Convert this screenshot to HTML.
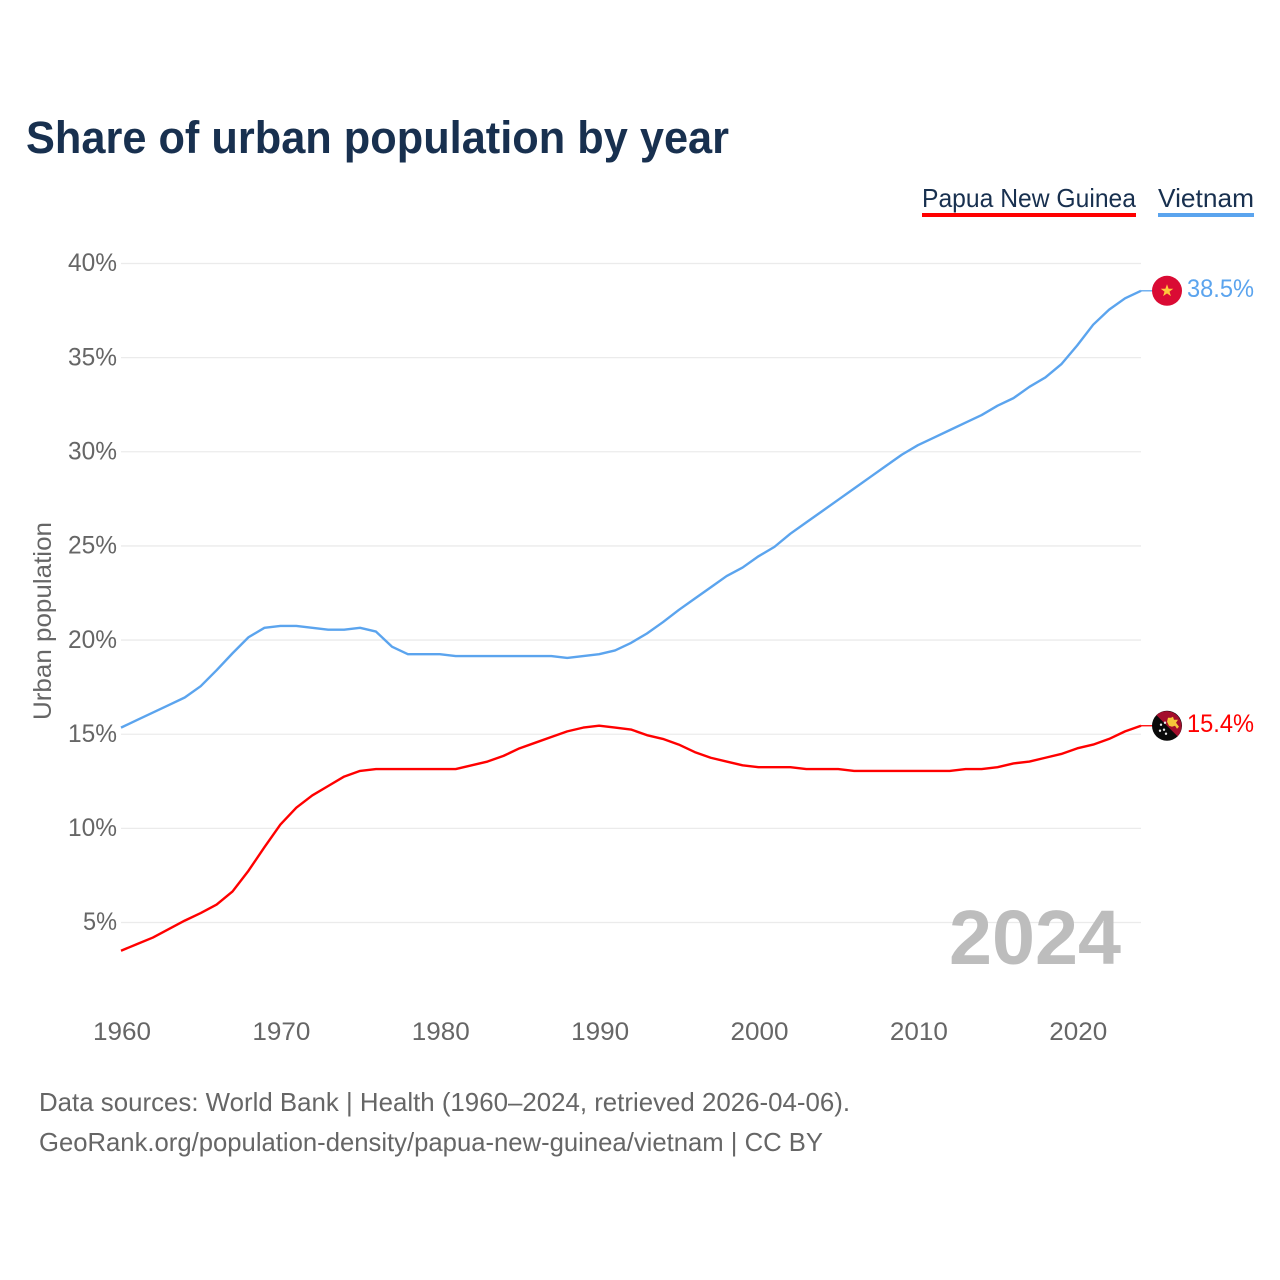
<!DOCTYPE html>
<html lang="en">
<head>
<meta charset="utf-8">
<title>Share of urban population by year</title>
<style>
html,body{margin:0;padding:0;background:#fff;}
svg{display:block;}
text{font-family:"Liberation Sans",sans-serif;}
</style>
</head>
<body>
<svg id="chart" xmlns="http://www.w3.org/2000/svg" width="1280" height="1280" viewBox="0 0 1280 1280">
  <rect width="1280" height="1280" fill="#ffffff"/>
  <text x="26" y="153" font-size="45" font-weight="700" fill="#18304f" textLength="703" lengthAdjust="spacingAndGlyphs">Share of urban population by year</text>

  <g>
    <text x="922" y="207" font-size="26" fill="#18304f" textLength="214" lengthAdjust="spacingAndGlyphs">Papua New Guinea</text>
    <rect x="922" y="213" width="214" height="4" fill="#ff0000"/>
  </g>
  <g>
    <text x="1158" y="207" font-size="26" fill="#18304f" textLength="96" lengthAdjust="spacingAndGlyphs">Vietnam</text>
    <rect x="1158" y="213" width="96" height="4" fill="#5ba4ee"/>
  </g>

  <g id="grid"></g>
  <g id="yticks"></g>
  <g id="xticks"></g>
  <text transform="translate(51,621) rotate(-90)" text-anchor="middle" font-size="25" fill="#666666" textLength="198" lengthAdjust="spacingAndGlyphs">Urban population</text>

  <text x="949" y="964" font-size="77" font-weight="700" fill="#bdbdbd" textLength="172" lengthAdjust="spacingAndGlyphs">2024</text>

  <g id="series"></g>

  <g id="flag-vn"></g>
  <g id="flag-pg"></g>

  <text x="39" y="1111" font-size="26" fill="#666666" textLength="811" lengthAdjust="spacingAndGlyphs">Data sources: World Bank | Health (1960–2024, retrieved 2026-04-06).</text>
  <text x="39" y="1151" font-size="26" fill="#666666" textLength="784" lengthAdjust="spacingAndGlyphs">GeoRank.org/population-density/papua-new-guinea/vietnam | CC BY</text>
</svg>
<script>
const years = [1960,1961,1962,1963,1964,1965,1966,1967,1968,1969,1970,1971,1972,1973,1974,1975,1976,1977,1978,1979,1980,1981,1982,1983,1984,1985,1986,1987,1988,1989,1990,1991,1992,1993,1994,1995,1996,1997,1998,1999,2000,2001,2002,2003,2004,2005,2006,2007,2008,2009,2010,2011,2012,2013,2014,2015,2016,2017,2018,2019,2020,2021,2022,2023,2024];
const vietnamValues = [15.35,15.75,16.15,16.55,16.95,17.55,18.4,19.3,20.15,20.65,20.75,20.75,20.65,20.55,20.55,20.65,20.45,19.65,19.25,19.25,19.25,19.15,19.15,19.15,19.15,19.15,19.15,19.15,19.05,19.15,19.25,19.45,19.85,20.35,20.95,21.6,22.2,22.8,23.4,23.85,24.45,24.95,25.65,26.25,26.85,27.45,28.05,28.65,29.25,29.85,30.35,30.75,31.15,31.55,31.95,32.45,32.85,33.45,33.95,34.65,35.65,36.75,37.55,38.15,38.55];
const papuaValues = [3.5,3.85,4.2,4.65,5.1,5.5,5.95,6.65,7.75,9.0,10.2,11.1,11.75,12.25,12.75,13.05,13.15,13.15,13.15,13.15,13.15,13.15,13.35,13.55,13.85,14.25,14.55,14.85,15.15,15.35,15.45,15.35,15.25,14.95,14.75,14.45,14.05,13.75,13.55,13.35,13.25,13.25,13.25,13.15,13.15,13.15,13.05,13.05,13.05,13.05,13.05,13.05,13.05,13.15,13.15,13.25,13.45,13.55,13.75,13.95,14.25,14.45,14.75,15.15,15.45];
const yTickValues = [5,10,15,20,25,30,35,40];
const yTickLabels = ["5%","10%","15%","20%","25%","30%","35%","40%"];
const xTickValues = [1960,1970,1980,1990,2000,2010,2020];
const xTickLabels = ["1960","1970","1980","1990","2000","2010","2020"];
const vietnamLabel = "38.5%";
const papuaLabel = "15.4%";

const NS = "http://www.w3.org/2000/svg";
const xScale = function (year) { return 121 + (year - 1960) * (1141 - 121) / 64; };
const yScale = function (value) { return 922.5 - (value - 5) * (922.5 - 263.5) / 35; };

function make(tag, attrs, parent, text) {
  const el = document.createElementNS(NS, tag);
  Object.keys(attrs).forEach(function (k) { el.setAttribute(k, attrs[k]); });
  if (text !== undefined) el.textContent = text;
  parent.appendChild(el);
  return el;
}

const grid = document.getElementById("grid");
const yticks = document.getElementById("yticks");
const xticks = document.getElementById("xticks");
const series = document.getElementById("series");

yTickValues.forEach(function (v, i) {
  const line = make("line", {x1: xScale(1960), x2: xScale(2024), y1: yScale(v), y2: yScale(v), stroke: "#ebebeb", "stroke-width": 1.3}, grid);
  
  
  const t = make("text", {x: 117, y: yScale(v) + 7.7, "text-anchor": "end", "font-size": 25, fill: "#666666", textLength: yTickLabels[i].length === 2 ? 34 : 49, lengthAdjust: "spacingAndGlyphs"}, yticks, yTickLabels[i]);
  
  
});

xTickValues.forEach(function (v, i) {
  const t = make("text", {x: xScale(v) + 1, y: 1040, "text-anchor": "middle", "font-size": 25, fill: "#666666", textLength: 58, lengthAdjust: "spacingAndGlyphs"}, xticks, xTickLabels[i]);
  
  
});

function drawSeries(values, color, name) {
  let d = "";
  values.forEach(function (v, i) {
    d += (i ? "L" : "M") + xScale(years[i]).toFixed(2) + " " + yScale(v).toFixed(2);
  });
  const last = values[values.length - 1];
  const path = make("path", {d: d, fill: "none", stroke: color, "stroke-width": 2.4, "stroke-linejoin": "round"}, series);
  
  
  const lead = make("line", {x1: xScale(2024), x2: xScale(2024) + 12, y1: yScale(last), y2: yScale(last), stroke: color, "stroke-width": 1.3}, series);
  
  
}
drawSeries(vietnamValues, "#5ba4ee", "vietnam");
drawSeries(papuaValues, "#ff0000", "papua-new-guinea");

function endLabel(value, text, color, name) {
  const t = make("text", {x: 1254, y: yScale(value) + 6.3, "text-anchor": "end", "font-size": 25, fill: color, textLength: 67, lengthAdjust: "spacingAndGlyphs"}, series, text);
  
  
}
endLabel(vietnamValues[vietnamValues.length - 1], vietnamLabel, "#5ba4ee", "vietnam");
endLabel(papuaValues[papuaValues.length - 1], papuaLabel, "#ff0000", "papua-new-guinea");

const flagX = 1167;
const vn = document.getElementById("flag-vn");
const vy = yScale(vietnamValues[vietnamValues.length - 1]);
make("circle", {cx: flagX, cy: vy, r: 15, fill: "#da0b34"}, vn);
make("path", {transform: "translate(" + flagX + "," + vy + ")", d: "M0 -6.5L1.6 -2H6.3L2.5 .8L3.9 5.3L0 2.6L-3.9 5.3L-2.5 .8L-6.3 -2H-1.6Z", fill: "#ffc93d"}, vn);

const pg = document.getElementById("flag-pg");
const py = yScale(papuaValues[papuaValues.length - 1]);
const pgInner = make("g", {transform: "translate(" + flagX + "," + py + ")"}, pg);
make("circle", {cx: 0, cy: 0, r: 15, fill: "#0a0a0a"}, pgInner);
make("path", {d: "M-10.6 -10.6A15 15 0 0 1 10.6 10.6Z", fill: "#a30d2c"}, pgInner);
make("path", {d: "M1 -8L4 -8L6 -9L7 -6L11 -6L9 -3L12 1L10 3L8 0L5 1L2 0L0 -4Z", fill: "#f5c53a"}, pgInner);
[[-6,-1],[-2,-3],[-3,4],[-7,5],[-1,8]].forEach(function (p) {
  make("circle", {cx: p[0], cy: p[1], r: 1.2, fill: "#e8e8e8"}, pgInner);
});
</script>
</body>
</html>
